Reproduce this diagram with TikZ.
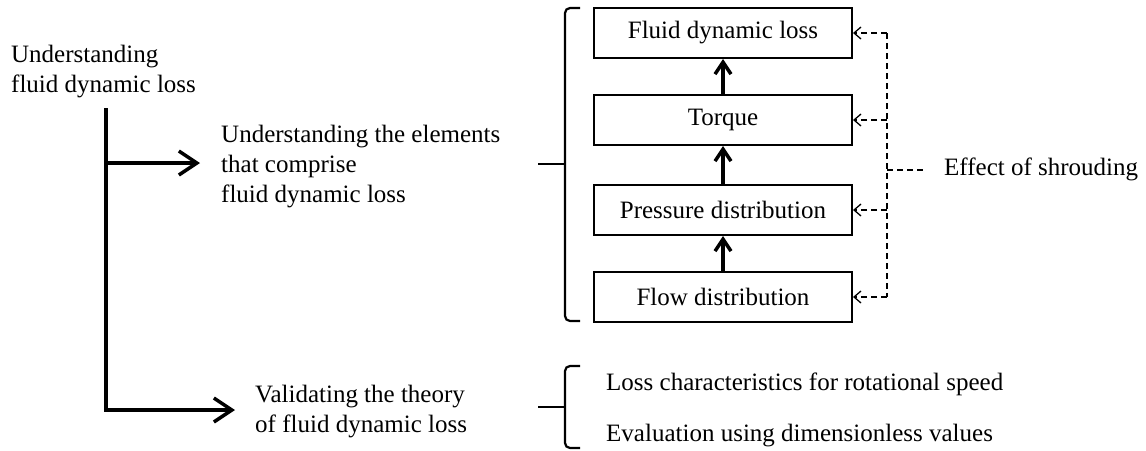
\documentclass[tikz,border=0pt]{standalone}
\usepackage{fontspec}
\setmainfont{Liberation Serif}
\usetikzlibrary{arrows.meta,calc}
\begin{document}
\begin{tikzpicture}[x=1pt,y=-1pt,
  every node/.style={font=\fontsize{25}{30}\selectfont, inner sep=0pt},
  txt/.style={align=left, anchor=north west},
  stage/.style={draw, line width=2pt, minimum width=258pt, minimum height=50pt},
  branch/.style={line width=3.5pt, -{Straight Barb[length=18pt,width=24pt]}},
  lift/.style={line width=3.5pt, -{Straight Barb[length=12pt,width=16pt]}},
  effect/.style={line width=1.3pt, dash pattern=on 6pt off 4pt},
  effarrow/.style={effect, -{Straight Barb[length=7pt,width=12pt]}},
  brace/.style={line width=2.2pt, rounded corners=5pt}]
\fill[white] (0,0) rectangle (1146,450);
\useasboundingbox (0,0) rectangle (1146,450);

% headings on the left
\node[txt] (t1) at (11,44.8) {Understanding\\fluid dynamic loss};
\node[txt] (t2) at (221,124.8) {Understanding the elements\\that comprise\\fluid dynamic loss};
\node[txt] (t3) at (255,384.8) {Validating the theory\\of fluid dynamic loss};

% trunk and branches
\coordinate (top) at (106,108);
\coordinate (j1) at (106,163);
\coordinate (j2) at (106,410);
\draw[branch] (top) -- (j2) -- ($(j2 -| t3.west)+(-20,0)$);
\draw[branch] (j1) -- ($(j1 -| t2.west)+(-21,0)$);

% chain of elements
\node[stage] (b1) at (723,33) {Fluid dynamic loss};
\node[stage] (b2) at (723,120) {Torque};
\node[stage] (b3) at (723,210) {Pressure distribution};
\node[stage] (b4) at (723,297) {Flow distribution};
\draw[lift] (b4.north) -- (b3.south);
\draw[lift] (b3.north) -- (b2.south);
\draw[lift] (b2.north) -- (b1.south);

% upper brace
\draw[brace] (580,8) -- (565,8) -- (565,164) -- (565,321) -- (580,321);
\draw[brace] (565,164) -- (538,164);

% effect of shrouding
\coordinate (rail) at (887,0);
\coordinate (sh) at (887,170);
\node[anchor=base west] (eff) at (944,175) {Effect of shrouding};
\draw[effect] (b1.east -| rail) -- (b4.east -| rail);
\draw[effect] (sh) -- ($(sh -| eff.west)+(-21,0)$);
\foreach \b in {b1,b2,b3,b4}
  \draw[effarrow] (\b.east -| rail) -- (\b.east);

% lower brace and validation items
\draw[brace] (580,366) -- (565,366) -- (565,448) -- (580,448);
\draw[brace] (565,407) -- (538,407);
\node[anchor=base west] (v1) at (606,390) {Loss characteristics for rotational speed};
\node[anchor=base west] (v2) at (606,441) {Evaluation using dimensionless values};
\end{tikzpicture}
\end{document}
